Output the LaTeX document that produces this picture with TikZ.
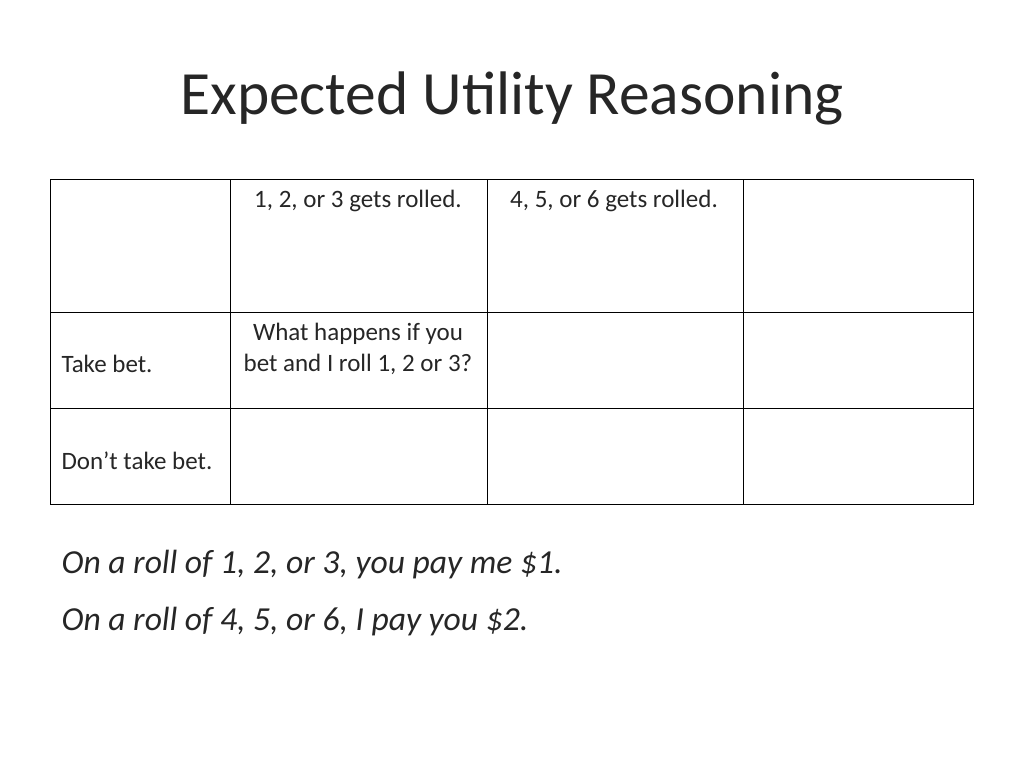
\documentclass[tikz,border=0pt]{standalone}
\usepackage{fontspec}
\setmainfont{Carlito}
\begin{document}
\begin{tikzpicture}[x=1pt,y=-1pt,
 cell/.style={font=\fontsize{25}{31}\selectfont,text=black!85,align=center},
 note/.style={font=\fontsize{33.6}{40}\selectfont\itshape,text=black!85,anchor=west}]
\useasboundingbox (0,0) rectangle (1024,768);
\node[font=\fontsize{61.5}{66}\selectfont,text=black!85] (title) at (512,98) {Expected Utility Reasoning};
\draw[line width=1pt] (50,179) rectangle (973,504);
\foreach \x in {230,487,743} \draw[line width=1pt] (\x,179) -- (\x,504);
\foreach \y in {312,408} \draw[line width=1pt] (50,\y) -- (973,\y);
\node[cell] (c1) at (358,201) {1, 2, or 3 gets rolled.};
\node[cell] (c2) at (614,201) {4, 5, or 6 gets rolled.};
\node[cell,anchor=west] (r1) at (58,364) {Take bet.};
\node[cell] (c3) at (358,349) {What happens if you\\bet and I roll 1, 2 or 3?};
\node[cell,anchor=west] (r2) at (58,461) {Don’t take bet.};
\node[note] (n1) at (58,565) {On a roll of 1, 2, or 3, you pay me \$1.};
\node[note] (n2) at (58,622) {On a roll of 4, 5, or 6, I pay you \$2.};
\end{tikzpicture}
\end{document}
